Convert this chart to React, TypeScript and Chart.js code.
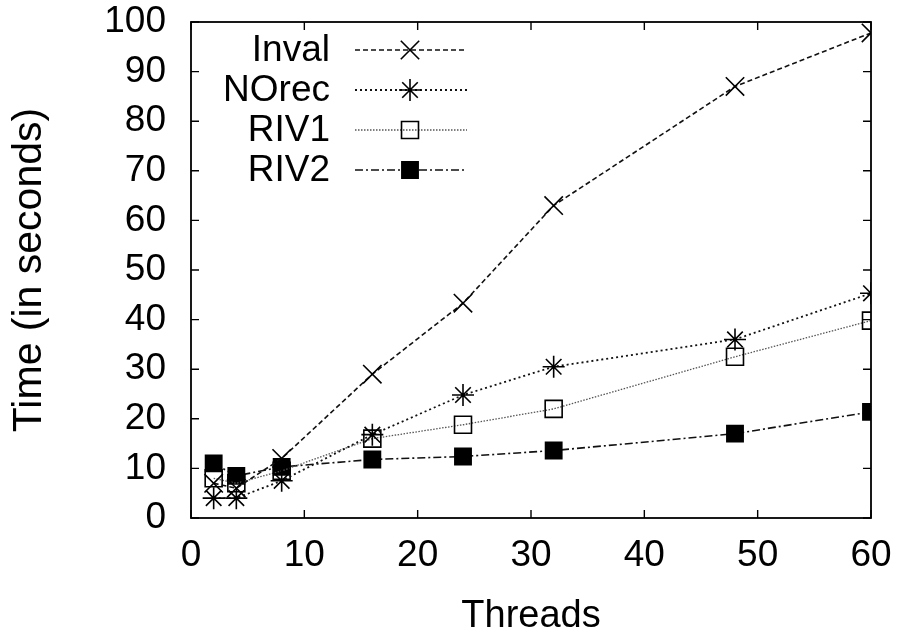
import React, { useEffect, useRef } from "react";
import { Chart, registerables } from "chart.js";

Chart.register(...registerables);

const threads = [2, 4, 8, 16, 24, 32, 48, 60];
const inval = [7, 6, 12, 29, 43.3, 63, 87, 97.8];
const norec = [4, 4, 7.5, 16.8, 24.8, 30.5, 36, 45.3];
const riv1 = [8, 7, 9.5, 16, 18.8, 22, 32.5, 39.8];
const riv2 = [11, 8.5, 10.3, 11.8, 12.4, 13.6, 17, 21.4];
const seriesLabels = ["Inval", "NOrec", "RIV1", "RIV2"];
const xTickLabels = [0, 10, 20, 30, 40, 50, 60];
const yTickLabels = [0, 10, 20, 30, 40, 50, 60, 70, 80, 90, 100];

const FONT = "'Liberation Sans', Arial, Helvetica, sans-serif";

function drawMarker(ctx: CanvasRenderingContext2D, style: string, r: number, x: number, y: number, fill: string) {
  const d = r * Math.SQRT1_2;
  ctx.beginPath();
  if (style === "crossRot") {
    ctx.moveTo(x - d, y - d); ctx.lineTo(x + d, y + d);
    ctx.moveTo(x - d, y + d); ctx.lineTo(x + d, y - d);
    ctx.stroke();
  } else if (style === "star") {
    ctx.moveTo(x - d, y - d); ctx.lineTo(x + d, y + d);
    ctx.moveTo(x - d, y + d); ctx.lineTo(x + d, y - d);
    ctx.moveTo(x, y - r); ctx.lineTo(x, y + r);
    ctx.moveTo(x - r, y); ctx.lineTo(x + r, y);
    ctx.stroke();
  } else {
    ctx.rect(x - d, y - d, 2 * d, 2 * d);
    if (fill !== "rgba(0,0,0,0)") { ctx.fillStyle = fill; ctx.fill(); }
    ctx.stroke();
  }
}

const framePlugin = {
  id: "frameTicks",
  afterDraw(chart: any) {
    const ctx = chart.ctx;
    const { left, right, top, bottom } = chart.chartArea;
    const xs = chart.scales.x;
    const ys = chart.scales.y;
    ctx.save();
    ctx.strokeStyle = "#000";
    ctx.lineWidth = 1.8;
    ctx.setLineDash([]);
    ctx.strokeRect(left, top, right - left, bottom - top);
    ctx.lineWidth = 1.4;
    const L = 8;
    xTickLabels.forEach((v) => {
      const px = xs.getPixelForValue(v);
      ctx.beginPath();
      ctx.moveTo(px, bottom);
      ctx.lineTo(px, bottom - L);
      ctx.moveTo(px, top);
      ctx.lineTo(px, top + L);
      ctx.stroke();
    });
    yTickLabels.forEach((v) => {
      const py = ys.getPixelForValue(v);
      ctx.beginPath();
      ctx.moveTo(left, py);
      ctx.lineTo(left + L, py);
      ctx.moveTo(right, py);
      ctx.lineTo(right - L, py);
      ctx.stroke();
    });
    ctx.restore();
  },
};

const legendPlugin = {
  id: "innerLegend",
  afterDatasetsDraw(chart: any) {
    const ctx = chart.ctx;
    const textRight = 330;
    const lineStart = 355;
    const lineEnd = 467;
    const markX = 410;
    const rows = [50, 90, 130, 170];
    ctx.save();
    chart.data.datasets.forEach((ds: any, i: number) => {
      const y = rows[i];
      ctx.fillStyle = "#000";
      ctx.font = `37px ${FONT}`;
      ctx.textAlign = "right";
      ctx.textBaseline = "middle";
      ctx.fillText(ds.label, textRight, y + 1);
      ctx.strokeStyle = ds.borderColor;
      ctx.lineWidth = ds.borderWidth;
      ctx.setLineDash(ds.borderDash || []);
      ctx.beginPath();
      ctx.moveTo(lineStart, y);
      ctx.lineTo(lineEnd, y);
      ctx.stroke();
      ctx.setLineDash([]);
      ctx.strokeStyle = "#000";
      ctx.lineWidth = ds.pointBorderWidth;
      drawMarker(ctx, ds.pointStyle, ds.pointRadius, markX, y, ds.pointBackgroundColor);
    });
    ctx.restore();
  },
};

export default function App() {
  const ref = useRef<HTMLCanvasElement>(null);
  useEffect(() => {
    if (!ref.current) return;
    const mk = (label: string, data: number[], dash: number[], style: string, r: number, fill: string, lineColor: string, bw: number) => ({
      label,
      data: threads.map((t, i) => ({ x: t, y: data[i] })),
      borderColor: lineColor,
      borderWidth: bw,
      borderDash: dash,
      pointStyle: style,
      pointRadius: r,
      pointHoverRadius: r,
      pointBorderColor: "#000",
      pointBackgroundColor: fill,
      pointBorderWidth: 1.6,
      fill: false,
      tension: 0,
    });
    const chart = new Chart(ref.current, {
      type: "line",
      data: {
        datasets: [
          mk(seriesLabels[0], inval, [5, 3], "crossRot", 13, "#000", "#111", 1.6),
          mk(seriesLabels[1], norec, [2, 3], "star", 11, "#000", "#111", 1.8),
          mk(seriesLabels[2], riv1, [1.5, 1.5], "rect", 12, "rgba(0,0,0,0)", "#555", 1.3),
          mk(seriesLabels[3], riv2, [8, 3, 2, 3], "rect", 11.5, "#000", "#111", 1.6),
        ],
      },
      options: {
        responsive: false,
        animation: false,
        layout: { padding: { top: 22, right: 29, left: 0, bottom: 0 } },
        plugins: { legend: { display: false }, tooltip: { enabled: false } },
        scales: {
          x: {
            type: "linear",
            min: 0,
            max: 60,
            afterFit: (s: any) => { s.height = 123; s.paddingLeft = 0; s.paddingRight = 0; },
            afterBuildTicks: (s: any) => { s.ticks = xTickLabels.map((v) => ({ value: v })); },
            grid: { display: false, drawTicks: false },
            border: { display: false },
            ticks: { color: "#000", padding: 16, font: { family: FONT, size: 37 }, maxRotation: 0 },
            title: { display: true, text: "Threads", color: "#000", font: { family: FONT, size: 38 }, padding: { top: 0, bottom: 2 } },
          },
          y: {
            type: "linear",
            min: 0,
            max: 100,
            afterFit: (s: any) => { s.width = 191; s.paddingTop = 0; s.paddingBottom = 0; },
            afterBuildTicks: (s: any) => { s.ticks = yTickLabels.map((v) => ({ value: v })); },
            grid: { display: false, drawTicks: false },
            border: { display: false },
            ticks: { color: "#000", padding: 25, font: { family: FONT, size: 37 } },
            title: { display: true, text: "Time (in seconds)", color: "#000", font: { family: FONT, size: 41 }, padding: { top: 5, bottom: 0 } },
          },
        },
      },
      plugins: [framePlugin, legendPlugin],
    } as any);
    return () => chart.destroy();
  }, []);
  return (
    <div style={{ position: "absolute", left: 0, top: 0, width: 900, height: 641, background: "#fff" }}>
      <canvas ref={ref} width={900} height={641} />
    </div>
  );
}
